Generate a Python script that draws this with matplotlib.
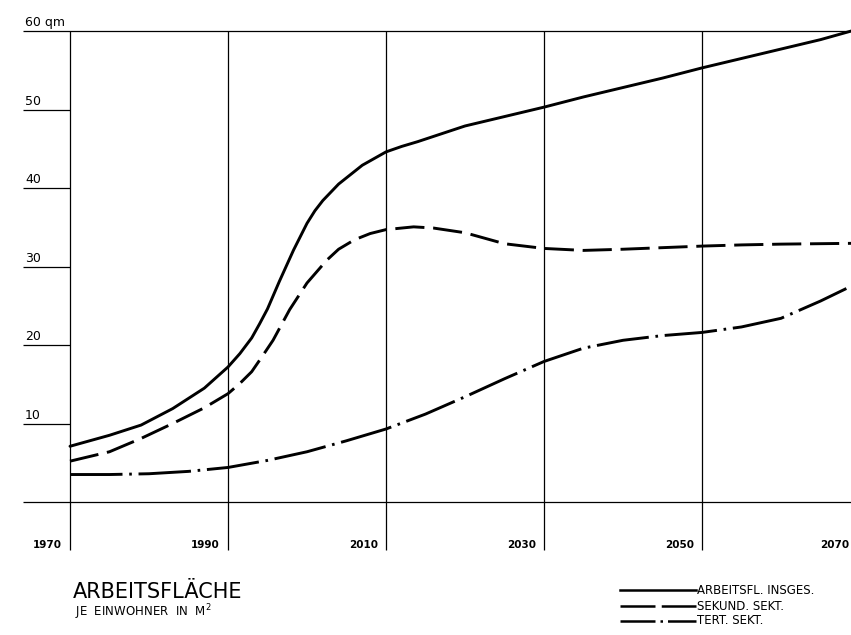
import matplotlib
matplotlib.use("Agg")
import matplotlib.pyplot as plt
from matplotlib.lines import Line2D

# ---- data ----
years_total = [1970, 1975, 1979, 1983, 1987, 1990, 1991.5, 1993, 1994, 1995, 1996.5, 1998.3,
               2000, 2001, 2002, 2004, 2007, 2010, 2012, 2014, 2017, 2020, 2025, 2030, 2035,
               2040, 2045, 2050, 2055, 2060, 2065, 2068.9]
total = [7.1, 8.5, 9.8, 11.9, 14.5, 17.2, 18.9, 20.9, 22.7, 24.6, 28.1, 32.1,
         35.5, 37.1, 38.4, 40.5, 42.9, 44.6, 45.3, 45.9, 46.9, 47.9, 49.1, 50.3, 51.6,
         52.8, 54.0, 55.3, 56.5, 57.7, 58.9, 60.0]

years_sek = [1970, 1975, 1979, 1983, 1987, 1990, 1991.5, 1993, 1994.3, 1995.7, 1997.8, 2000,
             2002.5, 2004, 2006, 2008, 2010, 2013.5, 2016, 2020, 2025, 2030, 2035, 2040,
             2045, 2050, 2055, 2060, 2068.9]
sekund = [5.2, 6.4, 8.1, 10.0, 12.0, 13.8, 15.1, 16.6, 18.5, 20.6, 24.5, 27.9,
          30.8, 32.2, 33.4, 34.2, 34.7, 35.05, 34.9, 34.3, 32.9, 32.3, 32.05, 32.2,
          32.4, 32.6, 32.75, 32.85, 32.95]

years_tert = [1970, 1975, 1980, 1985, 1990, 1995, 2000, 2005, 2010, 2015, 2020, 2025,
              2030, 2035, 2040, 2045, 2050, 2055, 2060, 2065, 2068.9]
tert = [3.5, 3.5, 3.6, 3.9, 4.4, 5.3, 6.4, 7.8, 9.3, 11.2, 13.4, 15.7,
        17.9, 19.6, 20.6, 21.2, 21.6, 22.3, 23.4, 25.6, 27.5]

x_ticks = [1970, 1990, 2010, 2030, 2050, 2070]
x_tick_labels = ["1970", "1990", "2010", "2030", "2050", "2070"]
y_ticks = [0, 10, 20, 30, 40, 50, 60]
y_tick_labels = ["", "10", "20", "30", "40", "50", "60 qm"]

title = "ARBEITSFLÄCHE"
subtitle = "JE  EINWOHNER  IN  M$^2$"
legend_labels = ["ARBEITSFL. INSGES.", "SEKUND. SEKT.", "TERT. SEKT."]

# ---- figure ----
W, H = 851, 635
fig = plt.figure(figsize=(W / 100, H / 100), dpi=100)
ax = fig.add_axes([0, 0, 1, 1])
ax.set_axis_off()

px_per_year = 7.9
px_per_unit = 7.85
x0_px, y0_px = 70, 502  # pixel position of (1970, 0) from top-left
ax.set_xlim(1970 - x0_px / px_per_year, 1970 + (W - x0_px) / px_per_year)
ax.set_ylim(-(H - y0_px) / px_per_unit, y0_px / px_per_unit)
xmin, xmax = ax.get_xlim()

grid_kw = dict(color="black", lw=0.9, solid_capstyle="butt")
left_tick = 1970 - 47 / px_per_year
# horizontal lines: full at 0 and 60, short ticks elsewhere
for v in y_ticks:
    if v in (0, 60):
        ax.plot([left_tick, xmax], [v, v], **grid_kw)
    else:
        ax.plot([left_tick, 1970], [v, v], **grid_kw)
# vertical grid lines
y_bottom = -(550 - y0_px) / px_per_unit
for yr in x_ticks:
    if yr <= xmax:
        ax.plot([yr, yr], [y_bottom, 60], **grid_kw)

# y labels
for v, lab in zip(y_ticks, y_tick_labels):
    if lab:
        ax.text(left_tick + 0.25, v + 0.25, lab, ha="left", va="bottom",
                fontsize=9, family="DejaVu Sans")
# x labels
y_lab = -(545 - y0_px) / px_per_unit
for yr, lab in zip(x_ticks, x_tick_labels):
    xp = min(yr - 8 / px_per_year, xmax - 0.2)
    ax.text(xp, y_lab, lab, ha="right", va="center", fontsize=7.5,
            fontweight="bold", family="DejaVu Sans")

lw = 2.1
ax.plot(years_total, total, color="black", lw=lw, solid_capstyle="round",
        solid_joinstyle="round")
ax.plot(years_sek, sekund, color="black", lw=lw, linestyle=(0, (10, 3)),
        dash_capstyle="butt", dash_joinstyle="round")
ax.plot(years_tert, tert, color="black", lw=lw, linestyle=(0, (18, 2.3, 0.9, 2.3)),
        dash_capstyle="butt", dash_joinstyle="round")

# title block
fig.text(73 / W, 1 - 592 / H, title, ha="left", va="center", fontsize=15,
         family="DejaVu Sans")
fig.text(75 / W, 1 - 612 / H, subtitle, ha="left", va="center", fontsize=8.5,
         family="DejaVu Sans")

# legend (drawn manually)
styles = ["-", (0, (14, 2.5, 30, 1)), (0, (14, 2, 1, 2, 30, 1))]
ys = [590, 606, 621]
for st, yy, lab in zip(styles, ys, legend_labels):
    fig.lines.append(Line2D([620 / W, 696 / W], [1 - yy / H, 1 - yy / H],
                            transform=fig.transFigure, color="black", lw=1.8,
                            linestyle=st, dash_capstyle="butt"))
    fig.text(697 / W, 1 - yy / H, lab, ha="left", va="center", fontsize=8.5,
             family="DejaVu Sans")

fig.savefig("out.png", dpi=100)
